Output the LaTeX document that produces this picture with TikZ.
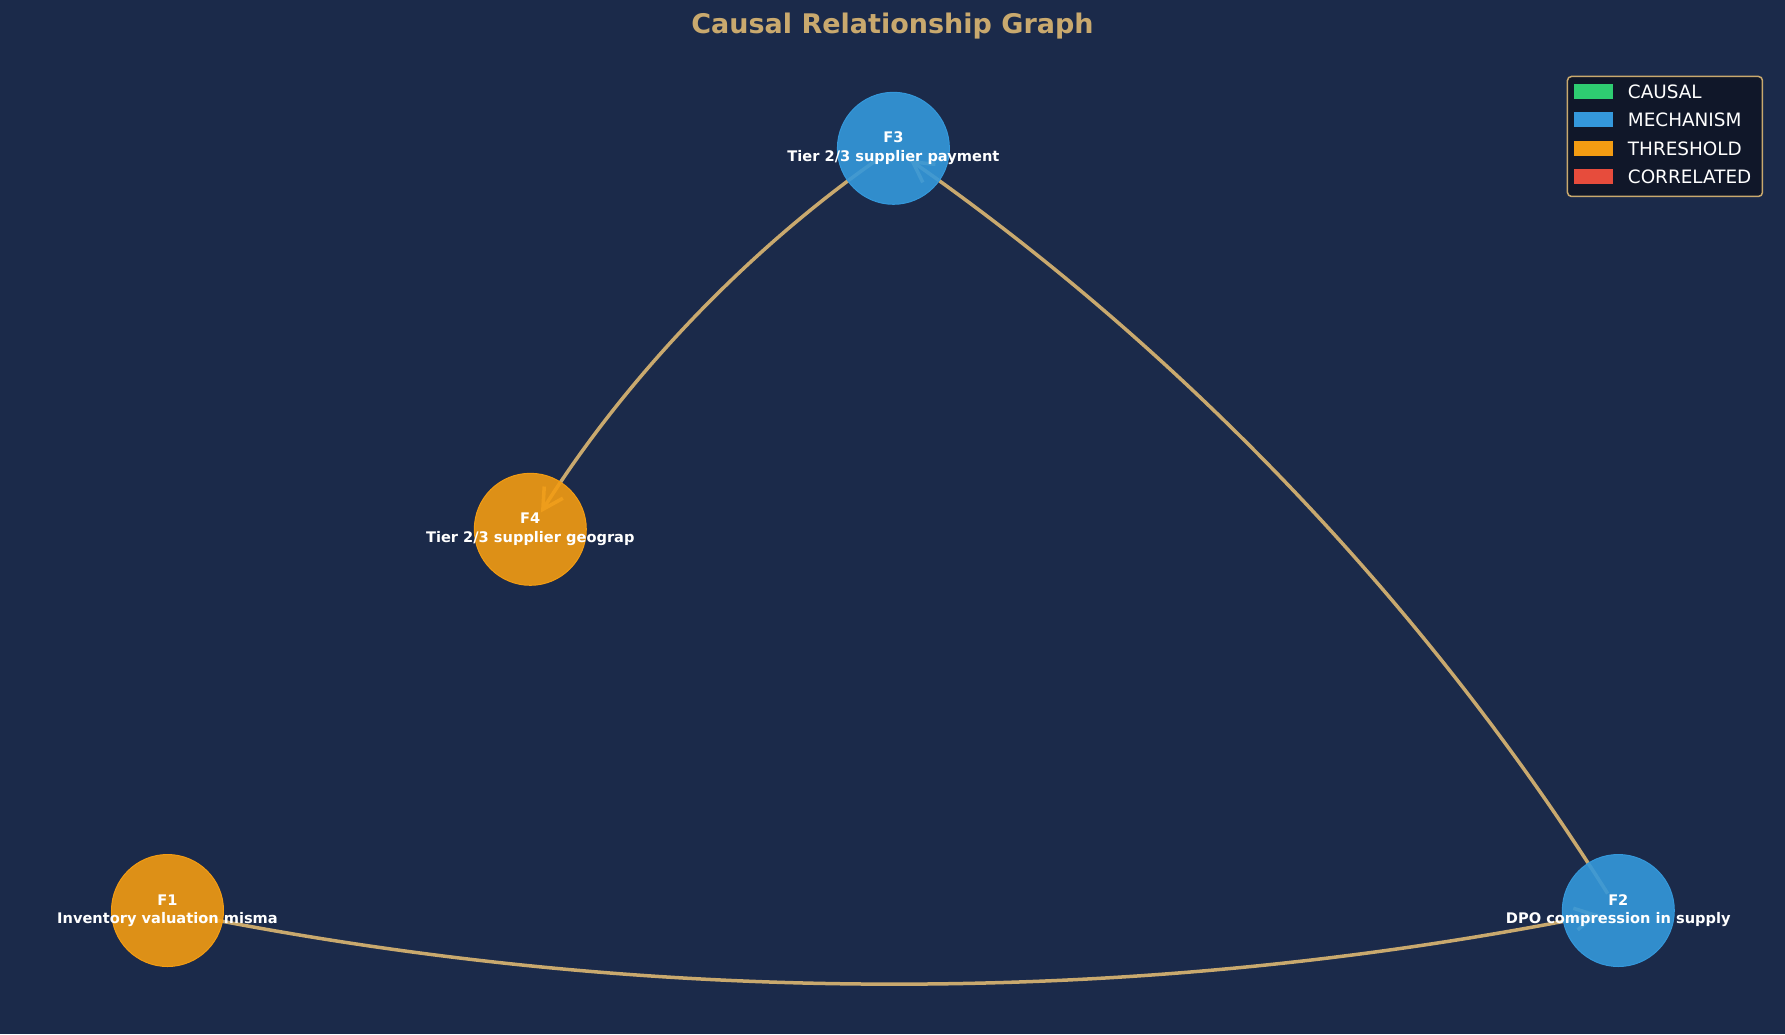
\documentclass[tikz,border=0pt]{standalone}
\usepackage{fontspec}
\setmainfont{DejaVu Sans}
\usetikzlibrary{arrows.meta}
\definecolor{bgc}{HTML}{1B2A4A}
\definecolor{gold}{HTML}{C9A96E}
\definecolor{orng}{HTML}{F39C12}
\definecolor{blu}{HTML}{3498DB}
\definecolor{grn}{HTML}{2ECC71}
\definecolor{rd}{HTML}{E74C3C}
\definecolor{legbg}{HTML}{101729}
\pgfdeclarelayer{bg}
\pgfsetlayers{bg,main}
\begin{document}
\begin{tikzpicture}[x=1pt,y=-1pt,
  edge/.style={draw=gold, line width=3.5pt, shorten >=20pt, shorten <=20pt,
    -{Straight Barb[length=20pt,width=22pt,line width=3.5pt]}},
  fnode/.style={circle, minimum size=112pt, inner sep=0pt, fill opacity=0.9, line width=1pt},
  thr/.style={fnode, fill=orng, draw=orng},
  mech/.style={fnode, fill=blu, draw=blu},
  flabel/.style={text=white, font=\bfseries\fontsize{14.6}{18.5}\selectfont, align=center, inner sep=0pt},
  legpatch/.style={rectangle, minimum width=38.7pt, minimum height=15pt, inner sep=0pt},
  legtext/.style={anchor=west, text=white, font=\fontsize{18.4}{20}\selectfont, inner sep=0pt}
]
\begin{pgfonlayer}{bg}
\fill[bgc] (0,0) rectangle (1785,1034);
\end{pgfonlayer}
\useasboundingbox (0,0) rectangle (1785,1034);

\node[text=gold, font=\bfseries\fontsize{27}{30}\selectfont] (title) at (892.5,26) {Causal Relationship Graph};

\node[mech] (F3) at (893.4,148.3) {};
\node[thr]  (F4) at (530.3,529.3) {};
\node[thr]  (F1) at (167.5,910.5) {};
\node[mech] (F2) at (1618.3,910.5) {};

\begin{pgfonlayer}{bg}
\draw[edge] (F3.center) .. controls +(-146.7,102.7) and +(95.3,-151.3) .. (F4.center);
\draw[edge] (F2.center) .. controls +(-190.7,-302.7) and +(292.7,205.3) .. (F3.center);
\draw[edge] (F1.center) .. controls +(483.7,96.7) and +(-483.7,96.7) .. (F2.center);
\end{pgfonlayer}

\node[flabel] (L3) at (F3) {F3\\Tier 2/3 supplier payment};
\node[flabel] (L4) at (F4) {F4\\Tier 2/3 supplier geograp};
\node[flabel] (L1) at (F1) {F1\\Inventory valuation misma};
\node[flabel] (L2) at (F2) {F2\\DPO compression in supply};

\node[draw=gold, fill=legbg, line width=1.5pt, rounded corners=4pt, minimum width=195pt, minimum height=120pt, anchor=north west, inner sep=0pt] (leg) at (1566.7,75.7) {};
\node[legpatch, fill=grn] (p1) at (1593.3,91.3) {};
\node[legpatch, fill=blu] (p2) at (1593.3,119.7) {};
\node[legpatch, fill=orng] (p3) at (1593.3,148.3) {};
\node[legpatch, fill=rd] (p4) at (1593.3,176.3) {};
\node[legtext] (t1) at (1627.7,91.3) {CAUSAL};
\node[legtext] (t2) at (1627.7,119.7) {MECHANISM};
\node[legtext] (t3) at (1627.7,148.3) {THRESHOLD};
\node[legtext] (t4) at (1627.7,176.3) {CORRELATED};
\end{tikzpicture}
\end{document}
